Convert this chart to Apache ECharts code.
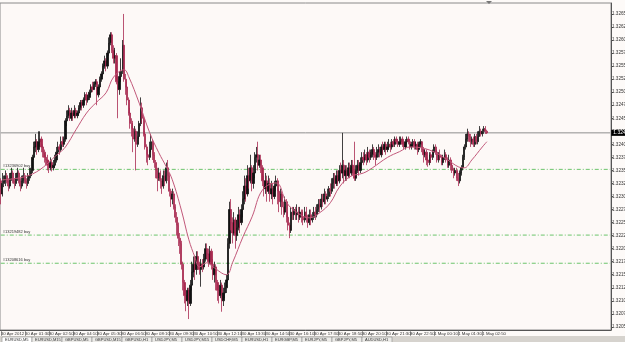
<!DOCTYPE html>
<html>
<head>
<meta charset="UTF-8">
<title>EURUSD,M5</title>
<script src="https://cdn.jsdelivr.net/npm/echarts@6/dist/echarts.min.js"></script>
<style>
  html, body { margin: 0; padding: 0; background: #fdfaf8; }
  #container { width: 625px; height: 342px; }
</style>
</head>
<body>
<div id="container"></div>
<script>
    // EURUSD M5, 30 Apr 2012 00:10 -> 1 May 2012 03:05 (324 bars)
    var firstOpen = 1.3233;
    var closes = [
        1.32305,1.32325,1.3233,1.3234,1.3233,1.3232,1.32335,1.32345,1.3233,1.32325,
        1.32335,1.32345,1.3233,1.3232,1.3233,1.3234,1.3233,1.32325,1.32335,1.3234,
        1.3235,1.32375,1.32395,1.32405,1.3239,1.32405,1.3241,1.32395,1.32385,1.32375,
        1.3237,1.3236,1.32355,1.32365,1.32355,1.3236,1.3237,1.32385,1.32395,1.3239,
        1.32405,1.324,1.3241,1.32445,1.32455,1.32465,1.3245,1.3246,1.32455,1.32465,
        1.32455,1.3246,1.3247,1.3248,1.32475,1.32485,1.32495,1.32485,1.3249,1.325,
        1.3251,1.32505,1.32515,1.3252,1.32495,1.3251,1.32525,1.32535,1.3255,1.3256,
        1.3255,1.32575,1.32595,1.3261,1.3258,1.32565,1.3257,1.3252,1.32505,1.3253,
        1.3254,1.3259,1.32525,1.3251,1.32485,1.3246,1.3244,1.3243,1.3241,1.32425,
        1.324,1.32415,1.3244,1.3247,1.3245,1.3242,1.32395,1.3238,1.32375,1.3239,
        1.32405,1.3238,1.32365,1.3235,1.32335,1.32345,1.3233,1.3232,1.3234,1.3233,
        1.32355,1.3234,1.3231,1.32295,1.32305,1.3228,1.3226,1.32245,1.3222,1.3221,
        1.3217,1.32135,1.3211,1.321,1.3212,1.32095,1.3213,1.32155,1.3217,1.3216,
        1.32185,1.3217,1.3216,1.3217,1.32165,1.3218,1.322,1.3219,1.32175,1.32195,
        1.3217,1.3215,1.32165,1.32135,1.3212,1.3211,1.3213,1.321,1.32115,1.32125,
        1.3214,1.3221,1.32275,1.3225,1.3223,1.32255,1.32225,1.3224,1.32265,1.3225,
        1.32275,1.32295,1.3232,1.32305,1.3234,1.3233,1.32355,1.32325,1.32345,1.32375,
        1.3238,1.3236,1.3237,1.32355,1.3233,1.32315,1.3233,1.3231,1.32325,1.32305,
        1.32315,1.323,1.3232,1.3233,1.3231,1.3229,1.32305,1.3228,1.3227,1.3229,
        1.3226,1.32245,1.32235,1.3227,1.32265,1.32275,1.32265,1.3227,1.3226,1.3227,
        1.3226,1.32255,1.3227,1.3226,1.3225,1.32265,1.32255,1.3226,1.3227,1.32265,
        1.32275,1.32285,1.3228,1.32295,1.3229,1.32305,1.32295,1.323,1.32315,1.3231,
        1.32325,1.32335,1.32325,1.3234,1.3233,1.3235,1.32345,1.3236,1.3234,1.3235,
        1.3234,1.32355,1.32345,1.3236,1.3235,1.32335,1.3235,1.3236,1.3235,1.32365,
        1.32375,1.3237,1.3238,1.3237,1.32385,1.32375,1.3238,1.3239,1.3238,1.32375,
        1.32385,1.3239,1.3238,1.32395,1.3239,1.324,1.3239,1.32395,1.324,1.32395,
        1.32405,1.324,1.3241,1.32405,1.324,1.32405,1.3241,1.324,1.32395,1.32405,
        1.3241,1.32405,1.32395,1.324,1.32405,1.32395,1.324,1.3239,1.324,1.32405,
        1.3239,1.3238,1.32385,1.3237,1.32365,1.3238,1.32375,1.32385,1.32395,1.32385,
        1.3237,1.3238,1.32375,1.32365,1.32375,1.3238,1.3237,1.3236,1.3237,1.3236,
        1.3235,1.32345,1.3235,1.32335,1.3233,1.32345,1.32355,1.32375,1.32395,1.3241,
        1.3242,1.32415,1.32405,1.3241,1.324,1.32415,1.32405,1.32415,1.32425,1.3242,
        1.32425,1.3243,1.32425,1.32422
    ];
    var highs = [
        1.32335,1.32345,1.3234,1.3235,1.32345,1.32335,1.32345,1.32355,1.3235,1.32335,
        1.32345,1.32355,1.3235,1.32335,1.3234,1.32355,1.32345,1.32335,1.32345,1.32355,
        1.32355,1.3238,1.32405,1.3242,1.3241,1.32425,1.32425,1.32415,1.324,1.3239,
        1.3238,1.3238,1.3237,1.32375,1.3237,1.3237,1.3238,1.32395,1.32405,1.324,
        1.32415,1.32415,1.32415,1.3245,1.32465,1.32475,1.3247,1.3247,1.32465,1.32475,
        1.3247,1.32465,1.32475,1.32485,1.32485,1.3249,1.325,1.325,1.32495,1.32505,
        1.32515,1.3252,1.3252,1.32525,1.32525,1.32515,1.3253,1.3254,1.32555,1.3257,
        1.32565,1.3258,1.32605,1.32615,1.32615,1.3259,1.32585,1.32575,1.3253,1.3254,
        1.32565,1.326,1.3265,1.32535,1.3252,1.3249,1.3247,1.3245,1.32445,1.32435,
        1.3243,1.32425,1.32445,1.3249,1.3248,1.32455,1.32425,1.324,1.3239,1.32405,
        1.3242,1.3241,1.32385,1.3237,1.32355,1.32355,1.3235,1.32335,1.3235,1.3235,
        1.32365,1.3237,1.32345,1.32315,1.32315,1.3231,1.32285,1.3227,1.3225,1.3223,
        1.32215,1.32175,1.3214,1.32125,1.32125,1.32125,1.3214,1.32175,1.32185,1.32185,
        1.32195,1.32195,1.32175,1.3218,1.3218,1.3219,1.3221,1.3221,1.322,1.32205,
        1.322,1.3218,1.32175,1.3217,1.3214,1.3213,1.3214,1.32135,1.32125,1.32135,
        1.3215,1.3222,1.3229,1.32295,1.3226,1.3227,1.3226,1.32255,1.3228,1.32275,
        1.32285,1.3231,1.3234,1.32335,1.3236,1.32355,1.3238,1.3236,1.3236,1.32385,
        1.32395,1.32405,1.3238,1.3238,1.3236,1.3234,1.32345,1.3234,1.3234,1.32335,
        1.3233,1.32325,1.3233,1.3234,1.32335,1.32315,1.32315,1.3231,1.3229,1.323,
        1.32295,1.3227,1.3225,1.3228,1.3228,1.3228,1.3228,1.32285,1.3228,1.3228,
        1.32275,1.32275,1.3228,1.3228,1.32265,1.32275,1.32275,1.3227,1.3228,1.3228,
        1.32285,1.32295,1.32295,1.32305,1.32305,1.32315,1.3231,1.32315,1.3232,1.32325,
        1.32335,1.32345,1.32345,1.3235,1.3235,1.3236,1.32365,1.32422,1.3237,1.3236,
        1.3236,1.32365,1.32365,1.3237,1.3237,1.32405,1.3236,1.3237,1.3237,1.32375,
        1.32385,1.32385,1.3239,1.32385,1.32395,1.3239,1.3239,1.324,1.32395,1.32385,
        1.32395,1.324,1.32395,1.324,1.32405,1.32405,1.32405,1.32405,1.3241,1.32405,
        1.3241,1.3241,1.32415,1.32415,1.3241,1.32415,1.32415,1.32415,1.32405,1.3241,
        1.32415,1.32415,1.3241,1.32405,1.3241,1.3241,1.32405,1.32405,1.32405,1.3241,
        1.32405,1.32395,1.3239,1.3239,1.32375,1.32385,1.32385,1.3239,1.324,1.324,
        1.3239,1.32385,1.3239,1.3238,1.3238,1.3239,1.32385,1.32375,1.3238,1.32375,
        1.32365,1.32355,1.32355,1.32355,1.32345,1.3235,1.3236,1.3238,1.324,1.3242,
        1.3243,1.32425,1.3242,1.32415,1.32415,1.3242,1.3242,1.32425,1.32435,1.3243,
        1.3243,1.32435,1.32435,1.32428
    ];
    var lows = [
        1.32285,1.323,1.32318,1.3232,1.32325,1.3231,1.32315,1.3233,1.32325,1.32315,
        1.3232,1.3233,1.32325,1.3231,1.32315,1.32325,1.32325,1.32315,1.3232,1.3233,
        1.32335,1.32345,1.3237,1.32385,1.3238,1.32385,1.32395,1.32385,1.32375,1.32365,
        1.3236,1.3235,1.32345,1.3235,1.32348,1.3235,1.32355,1.32365,1.3238,1.3238,
        1.32385,1.32395,1.32395,1.32405,1.32435,1.3245,1.32445,1.32445,1.32445,1.3245,
        1.3245,1.3245,1.32455,1.32465,1.32465,1.3247,1.3248,1.32475,1.3248,1.32485,
        1.32495,1.325,1.32505,1.3251,1.32475,1.3249,1.32505,1.3252,1.3253,1.32545,
        1.3254,1.32545,1.3257,1.3259,1.32575,1.32555,1.32555,1.32515,1.3245,1.32495,
        1.3252,1.32535,1.3252,1.32495,1.32475,1.32455,1.3243,1.32415,1.32385,1.32405,
        1.3235,1.32395,1.3241,1.32435,1.3244,1.32415,1.3239,1.32365,1.3236,1.3237,
        1.32385,1.3237,1.32355,1.32335,1.3231,1.3233,1.32315,1.32305,1.32315,1.3232,
        1.32325,1.3233,1.323,1.3228,1.32285,1.32275,1.3225,1.32225,1.32205,1.3219,
        1.3216,1.3212,1.32095,1.3208,1.3209,1.32065,1.3209,1.3212,1.32145,1.3214,
        1.3215,1.3216,1.3215,1.32127,1.32155,1.3216,1.32175,1.3218,1.32165,1.3217,
        1.3216,1.3214,1.32135,1.3212,1.321,1.32095,1.32105,1.32079,1.3209,1.32105,
        1.32115,1.32135,1.322,1.32235,1.3221,1.32225,1.322,1.32215,1.32235,1.3223,
        1.32245,1.3226,1.32285,1.3229,1.323,1.32315,1.32325,1.3231,1.32315,1.32335,
        1.32365,1.3235,1.32355,1.32345,1.3232,1.323,1.32305,1.3229,1.32305,1.3229,
        1.32295,1.32285,1.32295,1.3231,1.32285,1.3227,1.3228,1.32265,1.3226,1.32265,
        1.3225,1.32235,1.3222,1.3223,1.32255,1.32255,1.32255,1.32255,1.3225,1.32255,
        1.3225,1.32245,1.3225,1.3225,1.3224,1.32245,1.32245,1.3225,1.32255,1.32255,
        1.3226,1.3227,1.3227,1.32275,1.3228,1.32285,1.32285,1.3229,1.32295,1.323,
        1.32305,1.32315,1.32315,1.3232,1.3232,1.32325,1.3233,1.32335,1.32325,1.3233,
        1.3233,1.32335,1.32335,1.3234,1.3234,1.3233,1.3233,1.32345,1.3234,1.32345,
        1.3236,1.3236,1.32365,1.3236,1.32365,1.32365,1.3237,1.32375,1.3237,1.3236,
        1.3237,1.32375,1.32375,1.32375,1.3238,1.32385,1.3238,1.32385,1.3239,1.32385,
        1.3239,1.32395,1.32395,1.324,1.32395,1.32395,1.324,1.32395,1.3239,1.3239,
        1.324,1.324,1.3239,1.3239,1.32395,1.3239,1.3239,1.3238,1.32385,1.32395,
        1.32385,1.32365,1.32375,1.3236,1.32357,1.3236,1.32365,1.3237,1.3238,1.3238,
        1.32365,1.32365,1.3237,1.3236,1.3236,1.3237,1.32365,1.32355,1.32355,1.3235,
        1.32345,1.32335,1.3234,1.3233,1.3232,1.32325,1.3234,1.3235,1.3237,1.3239,
        1.32405,1.32405,1.32395,1.324,1.32395,1.32395,1.324,1.324,1.32415,1.32415,
        1.32415,1.3242,1.3242,1.3242
    ];

    // moving average: bar index and value
    var maIndex = [1, 21, 39, 43, 50, 57, 63, 70, 75, 82, 85, 92, 99, 105, 110, 114, 120, 125, 129, 132,
        137, 141, 150, 154, 161, 167, 174, 183, 190, 197, 205, 212, 219, 225, 232, 241, 247, 257, 265, 272,
        285, 297, 304, 308, 313, 320, 323];
    var maValue = [1.32332, 1.32343, 1.32384, 1.32395, 1.32428, 1.3246, 1.32479, 1.32499, 1.32529, 1.32543,
        1.3253, 1.32479, 1.32422, 1.32384, 1.32357, 1.32332, 1.32274, 1.32217, 1.32184, 1.32165,
        1.32173, 1.32165, 1.3215, 1.32173, 1.32223, 1.32261, 1.32313, 1.32326, 1.32288, 1.32269,
        1.32259, 1.32269, 1.32288, 1.32318, 1.32338, 1.32345, 1.32355, 1.32375, 1.32386, 1.32395,
        1.32389, 1.3237, 1.32357, 1.32355, 1.3237, 1.32395, 1.32405];

    var bidPrice = 1.32422;
    var orderPrices = [1.32352, 1.32226, 1.32172];
    var orderLabels = ['#13236902 buy', '#13219482 buy', '#13208616 buy'];

    var timeLabels = ['30 Apr 2012', '30 Apr 01:30', '30 Apr 02:50', '30 Apr 04:10', '30 Apr 05:30',
        '30 Apr 06:50', '30 Apr 08:10', '30 Apr 09:30', '30 Apr 10:50', '30 Apr 12:10', '30 Apr 13:30',
        '30 Apr 14:50', '30 Apr 16:10', '30 Apr 17:30', '30 Apr 18:50', '30 Apr 20:10', '30 Apr 21:30',
        '30 Apr 22:50', '1 May 00:10', '1 May 01:30', '1 May 02:50'];
    var priceTicks = [1.3205, 1.32075, 1.321, 1.32125, 1.3215, 1.32175, 1.322, 1.32225, 1.3225,
        1.32275, 1.323, 1.32325, 1.3235, 1.32375, 1.324, 1.32425, 1.3245, 1.32475, 1.325, 1.32525,
        1.3255, 1.32575, 1.326, 1.32625, 1.3265];
    var tabNames = ['EURUSD,M5', 'EURUSD,M15', 'GBPUSD,M5', 'GBPUSD,M15', 'GBPUSD,H1', 'USDJPY,M5',
        'USDJPY,M15', 'USDCHF,M5', 'EURUSD,H1', 'EURGBP,M5', 'EURJPY,M5', 'GBPJPY,M5', 'AUDUSD,H1'];

    var barsPerLabel = 16;
    var slots = 406; // chart shifted: empty space right of the last bar

    var categories = [];
    for (var i = 0; i < slots; i++) {
        var k = i / barsPerLabel;
        categories.push(i % barsPerLabel === 0 && timeLabels[k] ? timeLabels[k] : '');
    }

    var candles = [];
    for (var j = 0; j < closes.length; j++) {
        var o = j === 0 ? firstOpen : closes[j - 1];
        var c = closes[j];
        candles.push([o, c, Math.min(lows[j], o, c), Math.max(highs[j], o, c)]);
    }

    var maData = [];
    for (var m = 0; m < maIndex.length; m++) {
        maData.push([maIndex[m], maValue[m]]);
    }

    var series = [{
        name: 'EURUSD,M5',
        type: 'candlestick',
        data: candles,
        barWidth: 1.8,
        itemStyle: {
            color: '#111', color0: '#a82a50',
            borderColor: '#111', borderColor0: '#a82a50', borderWidth: 0.8
        },
        z: 4
    }, {
        name: 'MA',
        type: 'line',
        data: maData,
        smooth: 0.4,
        showSymbol: false,
        lineStyle: { color: '#c2587a', width: 1 },
        z: 5
    }, {
        // bid line with the price box on the axis
        name: 'Bid',
        type: 'line',
        data: [[0, bidPrice], [slots - 1, bidPrice]],
        showSymbol: false,
        lineStyle: { color: '#8e8e8e', width: 1 },
        endLabel: {
            show: true, distance: 1,
            formatter: bidPrice.toFixed(5),
            backgroundColor: '#000', color: '#fff',
            fontSize: 5, padding: [1, 1, 0, 2]
        },
        z: 2
    }];
    for (var n = 0; n < orderPrices.length; n++) {
        series.push({
            name: orderLabels[n],
            type: 'line',
            data: [
                { value: [0, orderPrices[n]], label: {
                    show: true, position: 'top', align: 'left', distance: 1, offset: [2, 0],
                    formatter: orderLabels[n], color: '#333', fontSize: 4
                } },
                [slots - 1, orderPrices[n]]
            ],
            showSymbol: true,
            symbolSize: 0,
            lineStyle: { color: '#6cc46c', type: [4, 2, 1, 2], width: 1 },
            z: 2
        });
    }

    var tabs = [{
        type: 'rect', shape: { x: 0, y: 336, width: 625, height: 6 },
        style: { fill: '#d6d3ce' }, silent: true
    }];
    for (var t = 0; t < tabNames.length; t++) {
        tabs.push({
            type: 'rect', shape: { x: 2 + t * 30, y: 337, width: 30, height: 6 },
            style: { fill: t === 0 ? '#ffffff' : '#ecebe8', stroke: '#8a8a8a', lineWidth: 0.6 },
            silent: true
        });
        tabs.push({
            type: 'text', x: 5 + t * 30, y: 338,
            style: { text: tabNames[t], fill: '#333', fontSize: 4, fontFamily: 'Liberation Sans' },
            silent: true
        });
    }
    tabs.push({
        type: 'polygon', shape: { points: [[486, 1], [492, 1], [489, 4]] },
        style: { fill: '#777' }, silent: true
    });

    var mycharts = echarts.init(document.getElementById('container'));
    var option = {
        animation: false,
        backgroundColor: '#fdfaf8',
        textStyle: { fontFamily: 'Liberation Sans' },
        grid: {
            left: 0, right: 14, top: 3, bottom: 12,
            outerBoundsMode: 'none',
            containLabel: false,
            show: true, borderColor: '#8a8a8a', borderWidth: 1, backgroundColor: '#fdf9f7'
        },
        xAxis: {
            type: 'category',
            data: categories,
            boundaryGap: true,
            axisLine: { lineStyle: { color: '#555', width: 1 } },
            axisTick: {
                show: true, alignWithLabel: true, length: 6,
                interval: function (idx, val) { return val !== ''; },
                lineStyle: { color: '#666', width: 0.6 }
            },
            axisLabel: {
                interval: function (idx, val) { return val !== ''; },
                align: 'left', margin: 1.5, fontSize: 4.3, color: '#333'
            },
            splitLine: { show: false }
        },
        yAxis: {
            type: 'value',
            position: 'right',
            min: 1.32044,
            max: 1.32671,
            scale: true,
            axisLine: { show: true, lineStyle: { color: '#555', width: 1 } },
            axisTick: { show: true, length: 2, customValues: priceTicks, lineStyle: { color: '#555' } },
            axisLabel: {
                customValues: priceTicks,
                margin: 1, fontSize: 4.6, color: '#333',
                formatter: function (v) { return v.toFixed(5); }
            },
            splitLine: { show: false }
        },
        series: series,
        graphic: tabs
    };
    mycharts.setOption(option);
</script>
</body>
</html>
